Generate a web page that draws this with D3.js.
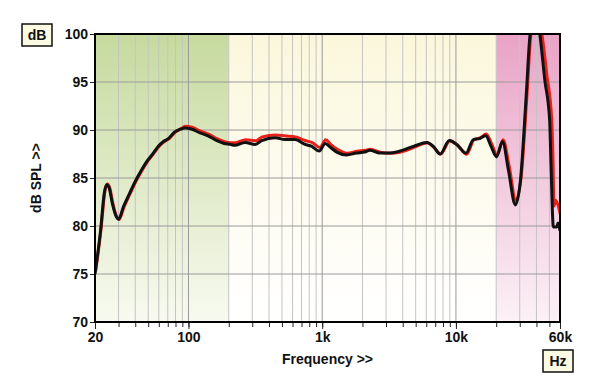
<!DOCTYPE html>
<html><head><meta charset="utf-8">
<script src="https://cdn.jsdelivr.net/npm/d3@7"></script>
<style>body{margin:0;background:#fff}svg{display:block}text{font-family:"Liberation Sans",Arial,sans-serif;font-weight:bold}</style>
</head><body><svg id="c" width="600" height="389"></svg>
<script>
const freqBlack = [20,22,23.5,24.5,25.5,27,29,30,32.6,36,39.8,44,48.7,54,59.5,65,70.8,79,88,94,105,122,140,163,185,205,222,265,316,353,444,528,626,745,836,950,1052,1150,1284,1522,1806,2084,2270,2692,3190,3780,4812,6050,6776,7610,8920,10100,11900,13500,15000,16700,18300,20100,22300,24700,27800,30400,33500,35800,38500,41000,42500,46200,50200,51500,53500,56600,58000,60000];
const splBlack = [75.0,79.5,83.5,84.3,84.0,82.3,80.9,80.7,82.0,83.3,84.6,85.7,86.7,87.5,88.3,88.8,89.1,89.8,90.1,90.2,90.1,89.7,89.4,88.9,88.6,88.5,88.4,88.7,88.5,88.9,89.2,89.0,89.0,88.5,88.3,87.8,88.6,88.2,87.7,87.4,87.6,87.7,87.9,87.6,87.6,87.8,88.3,88.7,88.3,87.5,88.9,88.5,87.6,89.0,89.1,89.4,88.3,87.2,88.8,85.8,82.2,84.8,93.5,99.9,102.0,101.5,99.9,95.2,91.0,86.0,79.9,79.9,80.3,79.5];
const freqRed = [20,22,23.5,24.5,25.5,27,29,30,32.6,36,39.8,44,48.7,54,59.5,65,70.8,79,88,94,105,122,140,163,185,205,222,265,316,353,444,528,626,745,836,950,1052,1150,1284,1522,1806,2084,2270,2692,3190,3780,4812,6050,6776,7610,8920,10100,11900,13500,15000,16700,18300,20100,22300,24700,27800,30400,33500,35800,38500,41500,43500,47500,51500,52800,53500,55000,57000,60000];
const splRed = [75.2,79.7,83.6,84.3,83.9,82.2,80.8,80.6,81.9,83.2,84.5,85.6,86.6,87.4,88.2,88.7,89.0,89.7,90.1,90.3,90.2,89.8,89.5,89.0,88.7,88.6,88.6,88.9,88.8,89.2,89.4,89.3,89.2,88.8,88.6,88.1,88.9,88.4,87.9,87.5,87.7,87.8,87.9,87.6,87.5,87.6,88.1,88.6,88.1,87.4,88.8,88.4,87.4,88.9,89.1,89.5,88.5,87.3,88.9,86.2,82.6,85.0,93.2,99.6,102.0,101.5,99.9,95.5,91.0,86.0,82.0,82.6,82.2,81.0];
const yTicks = [70,75,80,85,90,95,100];
const xTickValues = [20,100,1000,10000,60000];
const xTickLabels = ["20","100","1k","10k","60k"];
const bands = [{from:20,to:200,top:"#c6da9e",bottom:"#f8faf0"},{from:200,to:20000,top:"#fbf7dc",bottom:"#ffffff"},{from:20000,to:60000,top:"#e9a3c6",bottom:"#fbf1f6"}];

const svg = d3.select("#c");
const L=95,R=560,T=34,B=322;
const x = d3.scaleLog().domain([20,60000]).range([L,R]);
const y = d3.scaleLinear().domain([70,100]).range([B,T]);
const defs = svg.append("defs");
bands.forEach((b,i)=>{
  const g=defs.append("linearGradient").attr("id","g"+i).attr("x1",0).attr("y1",0).attr("x2",0).attr("y2",1);
  g.append("stop").attr("offset","0%").attr("stop-color",b.top);
  g.append("stop").attr("offset","100%").attr("stop-color",b.bottom);
  svg.append("rect").attr("x",x(b.from)).attr("y",T).attr("width",x(b.to)-x(b.from)).attr("height",B-T).attr("fill",`url(#g${i})`);
});
defs.append("clipPath").attr("id","clip").append("rect").attr("x",L).attr("y",T).attr("width",R-L).attr("height",B-T);

// minor/major vertical grid
const minor=[];
for(let d=10;d<=10000;d*=10){for(let k=1;k<=9;k++){const v=d*k;if(v>=20&&v<=60000)minor.push(v);}}
minor.push(60000);
const majors=[100,1000,10000];
svg.append("g").selectAll("line").data(minor.filter(v=>v>20&&v<60000)).join("line")
  .attr("x1",d=>x(d)).attr("x2",d=>x(d)).attr("y1",T).attr("y2",B)
  .attr("stroke",d=>majors.includes(d)?"#9a9a9a":"#c4c4c4").attr("stroke-width",1);
svg.append("g").selectAll("line").data(yTicks.filter(v=>v>70&&v<100)).join("line")
  .attr("x1",L).attr("x2",R).attr("y1",d=>y(d)).attr("y2",d=>y(d)).attr("stroke","#9a9a9a").attr("stroke-width",1);

// curves
const line=d3.line().x(d=>x(d[0])).y(d=>y(d[1])).curve(d3.curveMonotoneX);
const cg=svg.append("g").attr("clip-path","url(#clip)");
cg.append("path").datum(freqRed.map((f,i)=>[f,splRed[i]])).attr("d",line).attr("fill","none").attr("stroke","#e8201a").attr("stroke-width",3).attr("transform","translate(0.6,-0.8)");
cg.append("path").datum(freqBlack.map((f,i)=>[f,splBlack[i]])).attr("d",line).attr("fill","none").attr("stroke","#111").attr("stroke-width",3);

// frame
svg.append("rect").attr("x",L).attr("y",T).attr("width",R-L).attr("height",B-T).attr("fill","none").attr("stroke","#000").attr("stroke-width",2);

// axes
const yAxis=d3.axisLeft(y).tickValues(yTicks).tickSize(4).tickPadding(2);
const ya=svg.append("g").attr("transform",`translate(${L-1},0)`).call(yAxis);
ya.select(".domain").remove();
ya.selectAll("text").attr("font-size",14).attr("fill","#111").attr("dy","0.35em");
ya.selectAll("line").attr("stroke","#222");

const xAxisMinor=d3.axisBottom(x).tickValues(minor).tickSize(4).tickFormat("");
const xm=svg.append("g").attr("transform",`translate(0,${B+1})`).call(xAxisMinor);
xm.select(".domain").remove(); xm.selectAll("line").attr("stroke","#222");
const xAxis=d3.axisBottom(x).tickValues(xTickValues).tickSize(6).tickPadding(3).tickFormat((d,i)=>xTickLabels[i]);
const xa=svg.append("g").attr("transform",`translate(0,${B+1})`).call(xAxis);
xa.select(".domain").remove();
xa.selectAll("line").attr("stroke","#222");
xa.selectAll("text").attr("font-size",14).attr("fill","#111");

svg.append("text").attr("x",(L+R)/2).attr("y",364).attr("text-anchor","middle").attr("font-size",14).attr("fill","#111").text("Frequency >>");
svg.append("text").attr("transform","translate(41,178) rotate(-90)").attr("text-anchor","middle").attr("font-size",14).attr("fill","#111").text("dB SPL >>");

function box(bx,by,label){
  svg.append("rect").attr("x",bx).attr("y",by).attr("width",30).attr("height",22).attr("fill","#fbfae3").attr("stroke","#111").attr("stroke-width",1.5);
  svg.append("text").attr("x",bx+15).attr("y",by+16).attr("text-anchor","middle").attr("font-size",14).attr("fill","#111").text(label);
}
box(22,24,"dB");
box(543,350,"Hz");
</script></body></html>
